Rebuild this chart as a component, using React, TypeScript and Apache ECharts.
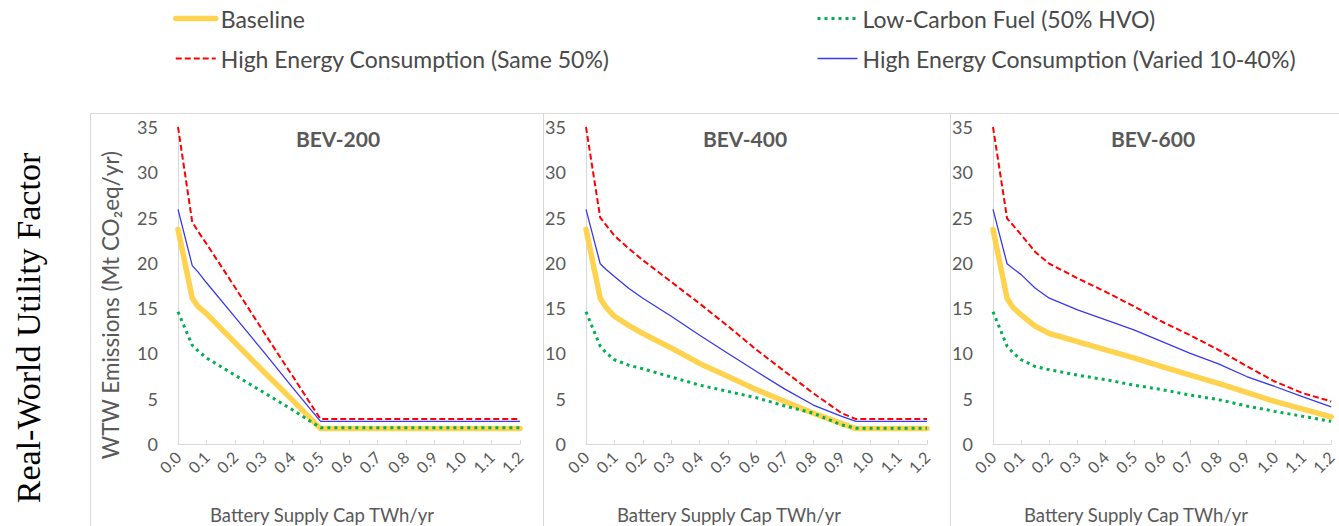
import React, { useEffect, useRef } from "react";
import * as echarts from "echarts";

const PANEL_TITLES = ["BEV-200", "BEV-400", "BEV-600"];
const SERIES_NAMES = [
  "Baseline",
  "Low-Carbon Fuel (50% HVO)",
  "High Energy Consumption (Same 50%)",
  "High Energy Consumption (Varied 10-40%)",
];

// BEV-200
const X_BEV200 = [0, 0.05, 0.07, 0.1, 0.2, 0.3, 0.4, 0.5, 0.6, 0.7, 0.8, 0.9, 1.0, 1.1, 1.2];
const BASE_BEV200 = [23.7, 16.1, 15.2, 14.4, 11.2, 8.0, 4.9, 1.7, 1.7, 1.7, 1.7, 1.7, 1.7, 1.7, 1.7];
const LOWC_BEV200 = [14.6, 10.9, 10.3, 9.5, 7.6, 5.7, 3.8, 1.8, 1.8, 1.8, 1.8, 1.8, 1.8, 1.8, 1.8];
const SAME_BEV200 = [35, 24.5, 23.5, 22.1, 17.3, 12.4, 7.6, 2.75, 2.75, 2.75, 2.75, 2.75, 2.75, 2.75, 2.75];
const VARIED_BEV200 = [25.9, 19.7, 19.0, 17.8, 14.0, 10.2, 6.3, 2.5, 2.5, 2.5, 2.5, 2.5, 2.5, 2.5, 2.5];

// BEV-400
const X_BEV400 = [0, 0.05, 0.07, 0.1, 0.15, 0.2, 0.3, 0.4, 0.5, 0.6, 0.7, 0.8, 0.9, 0.95, 1.0, 1.1, 1.2];
const BASE_BEV400 = [23.7, 16.1, 15.1, 14.1, 13.1, 12.2, 10.6, 8.9, 7.45, 6.0, 4.7, 3.4, 2.25, 1.7, 1.7, 1.7, 1.7];
const LOWC_BEV400 = [14.6, 10.8, 10.1, 9.3, 8.7, 8.3, 7.4, 6.5, 5.8, 5.1, 4.2, 3.4, 2.1, 1.75, 1.75, 1.75, 1.75];
const SAME_BEV400 = [35, 25.0, 24.2, 23.0, 21.6, 20.3, 17.9, 15.5, 13.0, 10.4, 8.0, 5.6, 3.4, 2.75, 2.75, 2.75, 2.75];
const VARIED_BEV400 = [25.9, 19.9, 19.3, 18.5, 17.2, 16.1, 14.1, 12.0, 10.0, 8.0, 6.06, 4.3, 3.05, 2.5, 2.5, 2.5, 2.5];

// BEV-600
const X_BEV600 = [0, 0.05, 0.07, 0.1, 0.15, 0.2, 0.3, 0.4, 0.5, 0.6, 0.7, 0.8, 0.9, 1.0, 1.1, 1.2];
const BASE_BEV600 = [23.7, 16.1, 15.1, 14.25, 13.0, 12.2, 11.3, 10.4, 9.5, 8.55, 7.6, 6.7, 5.7, 4.7, 3.85, 3.0];
const LOWC_BEV600 = [14.6, 10.8, 10.1, 9.3, 8.55, 8.2, 7.6, 7.1, 6.5, 6.0, 5.4, 4.9, 4.2, 3.6, 3.05, 2.5];
const SAME_BEV600 = [35, 24.9, 24.2, 23.1, 21.2, 19.9, 18.3, 16.8, 15.2, 13.5, 12.0, 10.4, 8.6, 6.9, 5.6, 4.7];
const VARIED_BEV600 = [25.9, 19.9, 19.4, 18.7, 17.2, 16.1, 14.8, 13.7, 12.6, 11.3, 10.0, 8.85, 7.45, 6.35, 5.2, 4.1];

const PANELS = [
  { x: X_BEV200, ys: [BASE_BEV200, LOWC_BEV200, SAME_BEV200, VARIED_BEV200] },
  { x: X_BEV400, ys: [BASE_BEV400, LOWC_BEV400, SAME_BEV400, VARIED_BEV400] },
  { x: X_BEV600, ys: [BASE_BEV600, LOWC_BEV600, SAME_BEV600, VARIED_BEV600] },
];

const LINE_STYLES: any[] = [
  { color: "#FFD34F", width: 5.5, type: "solid", cap: "round", join: "round" },
  { color: "#00B050", width: 3, type: [3, 4], cap: "butt" },
  { color: "#FF0000", width: 2, type: [6, 3] },
  { color: "#3838F0", width: 1.3, type: "solid" },
];

const GRIDS = [
  { left: 178, top: 127, width: 342, height: 317 },
  { left: 586, top: 127, width: 341, height: 317 },
  { left: 993, top: 127, width: 342, height: 317 },
];

const FONT = "Lato, 'Open Sans', sans-serif";
const GRAY = "#595959";

export default function App() {
  const ref = useRef<HTMLDivElement>(null);
  useEffect(() => {
    const chart = echarts.init(ref.current!, null, { renderer: "svg" });
    const series: any[] = [];
    PANELS.forEach((p, pi) => {
      p.ys.forEach((ys, si) => {
        series.push({
          name: SERIES_NAMES[si],
          type: "line",
          xAxisIndex: pi,
          yAxisIndex: pi,
          symbol: "none",
          showSymbol: false,
          z: si === 0 ? 2 : 3,
          lineStyle: LINE_STYLES[si],
          itemStyle: { color: LINE_STYLES[si].color },
          data: p.x.map((xv, i) => [xv, ys[i]]),
        });
      });
    });

    const legendItem = (si: number) => ({
      name: SERIES_NAMES[si],
      lineStyle: { ...LINE_STYLES[si] },
    });
    const legendText = { fontSize: 23, color: "#4a4a4a", fontFamily: FONT, lineHeight: 25 };
    const option: any = {
      animation: false,
      backgroundColor: "#ffffff",
      textStyle: { fontFamily: FONT },
      legend: [
        {
          data: [legendItem(0), legendItem(2)],
          orient: "vertical",
          left: 168,
          top: 1,
          itemWidth: 40,
          itemHeight: 12,
          itemGap: 15,
          itemStyle: { opacity: 0 },
          textStyle: legendText,
        },
        {
          data: [legendItem(1), legendItem(3)],
          orient: "vertical",
          left: 811,
          top: 1,
          itemWidth: 40,
          itemHeight: 12,
          itemGap: 15,
          itemStyle: { opacity: 0 },
          textStyle: legendText,
        },
      ],
      grid: GRIDS.map((g) => ({ ...g, containLabel: false })),
      xAxis: GRIDS.map((_, i) => ({
        type: "value",
        gridIndex: i,
        min: 0,
        max: 1.2,
        interval: 0.1,
        axisLine: { show: true, lineStyle: { color: "#d9d9d9", width: 1 } },
        axisTick: { show: true, inside: true, length: 4, lineStyle: { color: "#d9d9d9" } },
        splitLine: { show: false },
        axisLabel: {
          rotate: 45,
          margin: 10,
          fontSize: 16,
          color: GRAY,
          fontFamily: FONT,
          formatter: (v: number) => v.toFixed(1),
        },
      })),
      yAxis: GRIDS.map((_, i) => ({
        type: "value",
        gridIndex: i,
        min: 0,
        max: 35,
        interval: 5,
        axisLine: { show: true, lineStyle: { color: "#d9d9d9", width: 1 } },
        axisTick: { show: false },
        splitLine: { show: false },
        axisLabel: { margin: 20, fontSize: 18, color: GRAY, fontFamily: FONT },
      })),
      graphic: [
        { type: "line", shape: { x1: 90, y1: 113.5, x2: 1339, y2: 113.5 }, style: { stroke: "#d9d9d9", lineWidth: 1 } },
        { type: "line", shape: { x1: 90.5, y1: 113, x2: 90.5, y2: 526 }, style: { stroke: "#d9d9d9", lineWidth: 1 } },
        { type: "line", shape: { x1: 543.5, y1: 113, x2: 543.5, y2: 526 }, style: { stroke: "#d9d9d9", lineWidth: 1 } },
        { type: "line", shape: { x1: 950.5, y1: 113, x2: 950.5, y2: 526 }, style: { stroke: "#d9d9d9", lineWidth: 1 } },
        ...PANEL_TITLES.map((t, i) => ({
          type: "text",
          x: [338, 745, 1153][i],
          y: 138,
          style: {
            text: t,
            fill: GRAY,
            font: `bold 21px ${FONT}`,
            textAlign: "center",
            textVerticalAlign: "middle",
          },
        })),
        ...[322, 729, 1136].map((cx) => ({
          type: "text",
          x: cx,
          y: 515,
          style: {
            text: "Battery Supply Cap TWh/yr",
            fill: GRAY,
            font: `18.5px ${FONT}`,
            textAlign: "center",
            textVerticalAlign: "middle",
          },
        })),
        {
          type: "text",
          x: 110,
          y: 305,
          rotation: Math.PI / 2,
          style: {
            text: "WTW Emissions (Mt CO\u2082eq/yr)",
            fill: GRAY,
            font: `22.5px ${FONT}`,
            textAlign: "center",
            textVerticalAlign: "middle",
          },
        },
        {
          type: "text",
          x: 28,
          y: 328,
          rotation: Math.PI / 2,
          style: {
            text: "Real-World Utility Factor",
            fill: "#000000",
            font: `34px 'Liberation Serif', 'Times New Roman', serif`,
            textAlign: "center",
            textVerticalAlign: "middle",
          },
        },
      ],
      series,
    };
    chart.setOption(option);
    return () => chart.dispose();
  }, []);
  return (
    <div
      ref={ref}
      style={{ position: "absolute", left: 0, top: 0, width: 1339, height: 526, background: "#fff" }}
    />
  );
}
